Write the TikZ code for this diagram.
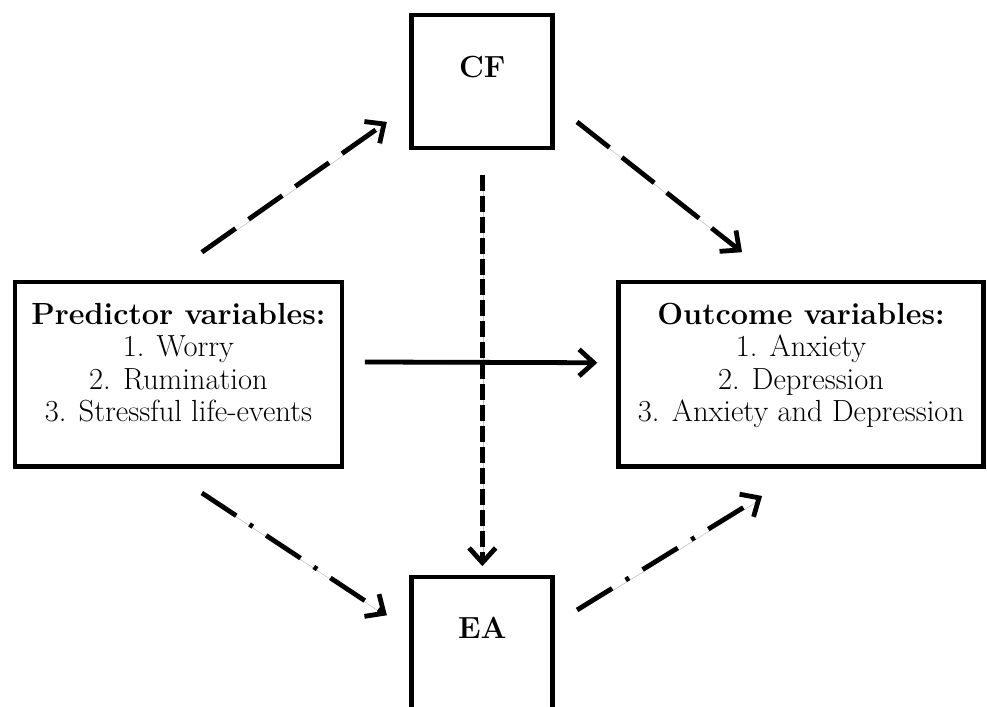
\documentclass[tikz,border=0pt]{standalone}
\usepackage{amsmath}
\usetikzlibrary{arrows.meta}

\begin{document}
\begin{tikzpicture}[node distance=80.4mm, font=\fontsize{23}{24.5}\selectfont,
    bigbox/.style={rectangle, draw, line width=3.6pt, outer sep=0pt, minimum height=48.7mm},
    smallbox/.style={rectangle, draw, line width=3.6pt, outer sep=0pt, minimum width=37.3mm, minimum height=35.2mm},
    link/.style={line width=3.6pt, -{Straight Barb[length=11pt, width=20pt]}, preaction={draw=black!25, transform canvas={shift={(0.8pt,-1.5pt)}}}},
    dashlink/.style={link, dash pattern=on 31pt off 12pt},
    dotlink/.style={link, dash pattern=on 12pt off 3.75pt},
    dotdashlink/.style={link, dash pattern=on 31pt off 12pt on 3pt off 12pt}]

    \node[bigbox, minimum width=86.5mm] (pred) {};
    \useasboundingbox ([xshift=-47.2mm, yshift=98.96mm]pred.center) rectangle ++(261.1mm,-186.8mm);

    \node[coordinate, right of=pred] (mid) {};
    \node[bigbox, minimum width=96.6mm, right of=pred, node distance=164.7mm] (outc) {};
    \node[smallbox, above of=mid, node distance=77.4mm] (cf) {};
    \node[smallbox, minimum height=38mm, below of=mid, node distance=72.7mm] (ea) {};

    \node[align=center, above of=pred, node distance=3mm] (predtext) {\textbf{Predictor variables:}\\1. Worry\\2. Rumination\\3. Stressful life-events};
    \node[align=center, above of=outc, node distance=2.3mm] (outctext) {\textbf{Outcome variables:}\\1. Anxiety\\2. Depression\\3. Anxiety and Depression};
    \node[above of=cf, node distance=3.8mm] (cftext) {\textbf{CF}};
    \node[above of=ea, node distance=5.5mm] (eatext) {\textbf{EA}};

    \draw[dashlink] ([xshift=6.2mm, yshift=7.9mm]pred.north) -- ([xshift=-6.6mm, yshift=-10.7mm]cf.west);
    \draw[dashlink] ([xshift=6.4mm, yshift=-10.7mm]cf.east) -- ([xshift=-15.6mm, yshift=7.9mm]outc.north);
    \draw[dotlink] ([yshift=-7.1mm]cf.south) -- ([yshift=2.9mm]ea.north);
    \draw[link] ([xshift=6.1mm, yshift=3.2mm]pred.east) -- ([xshift=-5.6mm, yshift=3mm]outc.west);
    \draw[dotdashlink] ([xshift=6.2mm, yshift=-7.1mm]pred.south) -- ([xshift=-6.6mm, yshift=8.9mm]ea.west);
    \draw[dotdashlink] ([xshift=6.4mm, yshift=10.3mm]ea.east) -- ([xshift=-10.3mm, yshift=-7.9mm]outc.south);

\end{tikzpicture}
\end{document}
